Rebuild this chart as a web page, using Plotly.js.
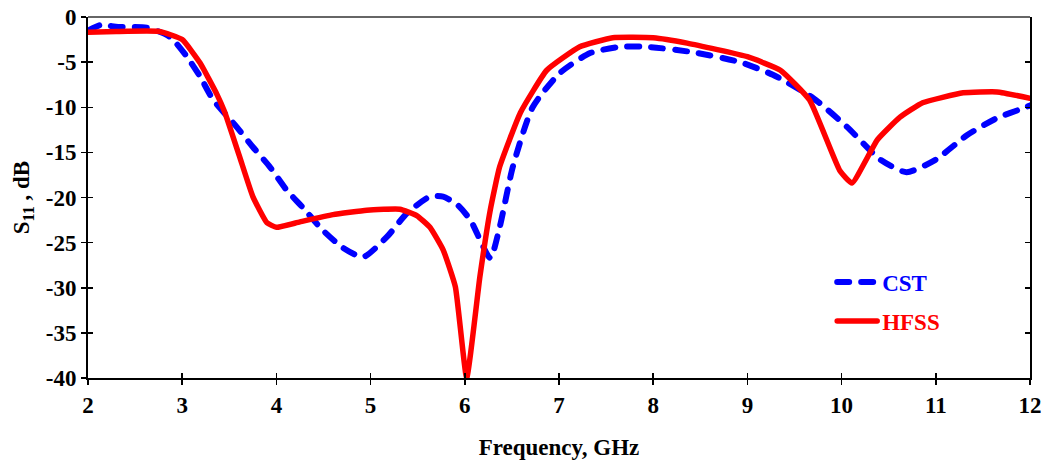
<!DOCTYPE html>
<html>
<head>
<meta charset="utf-8">
<script src="https://cdn.plot.ly/plotly-3.0.1.min.js"></script>
<style>
  html, body { margin: 0; padding: 0; background: #fff; }
  #chart { width: 1046px; height: 470px; }
  .scatterlayer .js-line, .legendlines path { stroke-linecap: round; stroke-linejoin: round; }
</style>
</head>
<body>
<div id="chart"></div>
<script>
// Return loss, CST simulation
const cstFreq = [2.0, 2.13, 2.32, 2.63, 2.87, 3.05, 3.19, 3.33, 3.58, 3.75, 3.93, 4.11, 4.28, 4.49, 4.71, 4.92,
  5.17, 5.39, 5.63, 5.77, 5.92, 6.06, 6.27, 6.37, 6.51, 6.72, 7.01, 7.33, 7.65, 7.93, 8.42, 8.92, 9.27, 9.7,
  10.06, 10.41, 10.69, 11.0, 11.33, 11.65, 11.93, 12.0];
const cstS11 = [-1.5, -0.9, -1.1, -1.2, -2.2, -4.4, -6.6, -9.2, -12.2, -14.4, -16.6, -19.2, -21.1, -23.6, -25.6, -26.6,
  -24.4, -21.7, -19.9, -19.9, -20.8, -22.5, -26.7, -23.3, -16.6, -10.0, -6.2, -4.0, -3.3, -3.3, -3.9, -5.0, -6.4, -9.0,
  -12.2, -15.8, -17.2, -15.8, -13.1, -11.2, -10.1, -9.8];

// Return loss, HFSS simulation
const hfssFreq = [2.0, 2.3, 2.76, 3.0, 3.19, 3.37, 3.45, 3.61, 3.75, 3.9, 4.0, 4.25, 4.6, 4.96, 5.31, 5.49, 5.63,
  5.77, 5.9, 6.02, 6.16, 6.27, 6.37, 6.59, 6.87, 7.22, 7.57, 8.0, 8.36, 9.0, 9.35, 9.66, 9.98, 10.11, 10.38,
  10.62, 10.86, 11.29, 11.65, 12.0];
const hfssS11 = [-1.7, -1.6, -1.6, -2.5, -5.1, -8.6, -10.5, -15.5, -19.9, -22.8, -23.3, -22.7, -21.9, -21.4, -21.3, -22.0, -23.3,
  -25.8, -29.9, -40.0, -28.8, -21.4, -16.6, -10.6, -5.9, -3.3, -2.3, -2.3, -2.9, -4.4, -5.9, -9.2, -17.0, -18.4, -13.6,
  -11.1, -9.5, -8.4, -8.3, -9.0];

const xTickVals = [2, 3, 4, 5, 6, 7, 8, 9, 10, 11, 12];
const xTickText = ['2', '3', '4', '5', '6', '7', '8', '9', '10', '11', '12'];
const yTickVals = [0, -5, -10, -15, -20, -25, -30, -35, -40];
const yTickText = ['0', '-5', '-10', '-15', '-20', '-25', '-30', '-35', '-40'];

const serif = 'Liberation Serif, Times New Roman, serif';
const tickFont = { family: serif, size: 23, color: '#000', weight: 'bold' };
const titleFont = { family: serif, size: 23, weight: 'bold', color: '#000' };

const traces = [
  {
    x: cstFreq, y: cstS11, type: 'scatter', mode: 'lines',
    name: '<span style="color:#0000ff">CST</span>', legendgroup: 'cst',
    line: { color: '#0000ff', width: 6, dash: '12px,12px', shape: 'spline', smoothing: 0.6 }
  },
  {
    x: hfssFreq, y: hfssS11, type: 'scatter', mode: 'lines',
    name: '<span style="color:#ff0000">HFSS</span>', legendgroup: 'hfss',
    line: { color: '#ff0000', width: 5.5, shape: 'spline', smoothing: 0.4 }
  },
  // transparent point on the overlay axes so their inside ticks are drawn
  { x: [2], y: [0], xaxis: 'x2', yaxis: 'y2', mode: 'markers', marker: { opacity: 0 }, showlegend: false, hoverinfo: 'skip' }
];

const layout = {
  width: 1046, height: 470,
  margin: { l: 88, r: 16, t: 17, b: 92 },
  paper_bgcolor: '#fff', plot_bgcolor: '#fff',
  showlegend: true,
  legend: {
    x: 0.79, y: 0.325, xanchor: 'left', yanchor: 'top',
    font: { family: serif, size: 23, weight: 'bold' },
    bgcolor: 'rgba(0,0,0,0)', tracegroupgap: 6, itemwidth: 40
  },
  xaxis: {
    range: [2, 12], tickvals: xTickVals, ticktext: xTickText,
    ticks: 'outside', ticklen: 5, tickwidth: 1.5, tickcolor: '#000',
    showline: true, linecolor: '#000', linewidth: 2, showgrid: false, zeroline: false,
    tickfont: tickFont,
    title: { text: 'Frequency, GHz', font: titleFont, standoff: 22 }
  },
  yaxis: {
    range: [-40, 0], tickvals: yTickVals, ticktext: yTickText,
    ticks: 'outside', ticklen: 5, tickwidth: 1.5, tickcolor: '#000',
    showline: true, linecolor: '#000', linewidth: 2, showgrid: false, zeroline: false,
    tickfont: tickFont,
    title: { text: 'S<sub>11</sub> , dB', font: titleFont, standoff: 10 }
  },
  xaxis2: {
    overlaying: 'x', matches: 'x', range: [2, 12], tickvals: xTickVals,
    ticks: 'inside', ticklen: 5, tickwidth: 1.5, tickcolor: '#000',
    showticklabels: false, showgrid: false, zeroline: false, showline: false
  },
  yaxis2: {
    overlaying: 'y', matches: 'y', range: [-40, 0], tickvals: yTickVals,
    ticks: 'inside', ticklen: 5, tickwidth: 1.5, tickcolor: '#000',
    showticklabels: false, showgrid: false, zeroline: false,
    showline: true, linecolor: '#000', linewidth: 1.5, mirror: 'ticks'
  },
  shapes: [
    { type: 'line', xref: 'paper', yref: 'paper', x0: 0, x1: 1, y0: 1, y1: 1, line: { color: '#666', width: 2 } }
  ]
};

Plotly.newPlot('chart', traces, layout, { staticPlot: true, displayModeBar: false });
</script>
</body>
</html>
